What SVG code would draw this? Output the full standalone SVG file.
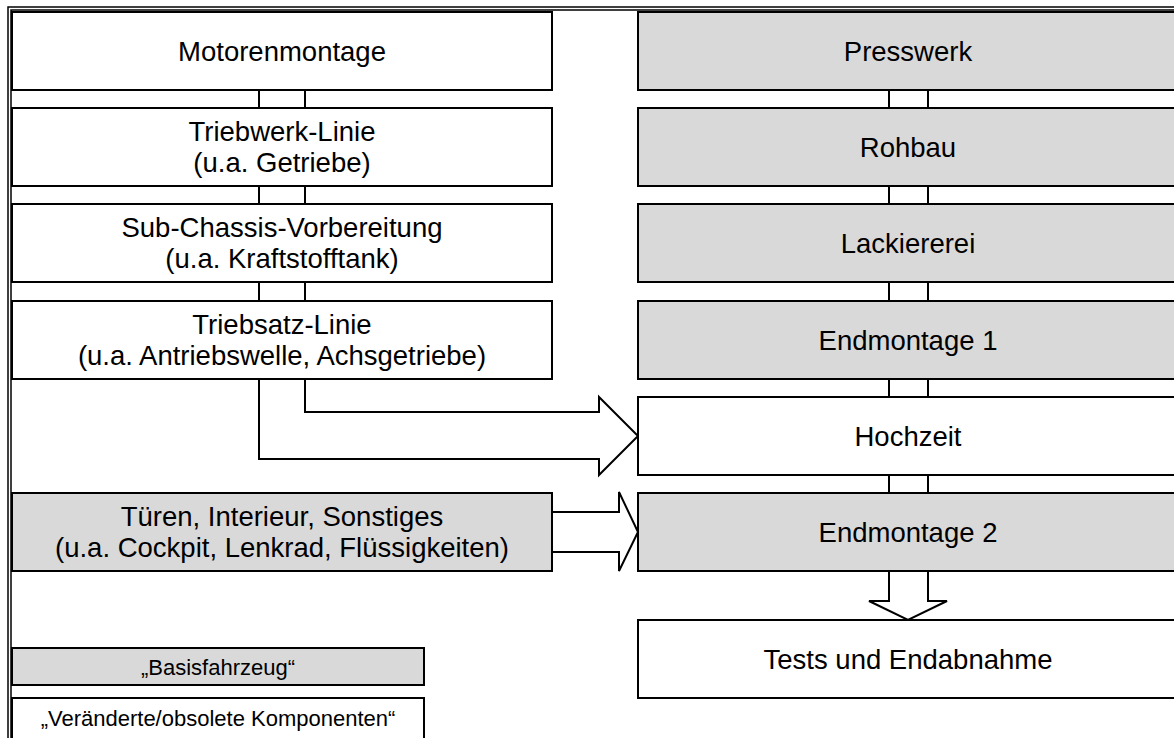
<svg xmlns="http://www.w3.org/2000/svg" width="1174" height="738" viewBox="0 0 1174 738">
<style>
.box{stroke:#000;stroke-width:2}
.w{fill:#fff}
.g{fill:#d9d9d9}
.t{font-family:"Liberation Sans",Arial,sans-serif;font-size:27.5px;fill:#000;text-anchor:middle}
.lt{font-family:"Liberation Sans",Arial,sans-serif;font-size:22px;fill:#000;text-anchor:middle}
.c{fill:none;stroke:#000;stroke-width:2}
.a{fill:#fff;stroke:#000;stroke-width:2;stroke-linejoin:miter}
.f{fill:none;stroke:#000;stroke-width:1.5}
</style>
<rect width="1174" height="738" fill="#fff"/>
<g id="frame">
<path class="f" d="M8,738 V7 H1174 M11,738 V10 H1174"/>
</g>
<g id="connectors">
<path class="c" d="M259,90 V108 M305,90 V108 M259,186 V204 M305,186 V204 M259,282 V301 M305,282 V301"/>
<path class="c" d="M889,90 V108 M928,90 V108 M889,186 V204 M928,186 V204 M889,282 V301 M928,282 V301 M889,379 V397 M928,379 V397 M889,475 V493 M928,475 V493"/>
<path class="a" d="M305,379 V412 H599 V397 L638,436 L599,475 V459 H259 V379"/>
<path class="a" d="M552,512 H619 V492 L638,532 L619,571 V552 H552"/>
<path class="a" d="M889,571 V601 H869 L908,620 L947,601 H928 V571"/>
</g>
<g id="motorenmontage"><rect class="box w" x="12" y="12" width="540" height="78"/><text class="t" x="282" y="60.5">Motorenmontage</text></g>
<g id="triebwerk"><rect class="box w" x="12" y="108" width="540" height="78"/><text class="t" x="282" y="141">Triebwerk-Linie</text><text class="t" x="282" y="172">(u.a. Getriebe)</text></g>
<g id="subchassis"><rect class="box w" x="12" y="204" width="540" height="78"/><text class="t" x="282" y="237">Sub-Chassis-Vorbereitung</text><text class="t" x="282" y="268">(u.a. Kraftstofftank)</text></g>
<g id="triebsatz"><rect class="box w" x="12" y="301" width="540" height="78"/><text class="t" x="282" y="334">Triebsatz-Linie</text><text class="t" x="282" y="365">(u.a. Antriebswelle, Achsgetriebe)</text></g>
<g id="tueren"><rect class="box g" x="12" y="493" width="540" height="78"/><text class="t" x="282" y="526">Türen, Interieur, Sonstiges</text><text class="t" x="282" y="557">(u.a. Cockpit, Lenkrad, Flüssigkeiten)</text></g>
<g id="presswerk"><rect class="box g" x="638" y="12" width="540" height="78"/><text class="t" x="908" y="60.5">Presswerk</text></g>
<g id="rohbau"><rect class="box g" x="638" y="108" width="540" height="78"/><text class="t" x="908" y="156.5">Rohbau</text></g>
<g id="lackiererei"><rect class="box g" x="638" y="204" width="540" height="78"/><text class="t" x="908" y="252.5">Lackiererei</text></g>
<g id="endmontage1"><rect class="box g" x="638" y="301" width="540" height="78"/><text class="t" x="908" y="349.5">Endmontage 1</text></g>
<g id="hochzeit"><rect class="box w" x="638" y="397" width="540" height="78"/><text class="t" x="908" y="445.5">Hochzeit</text></g>
<g id="endmontage2"><rect class="box g" x="638" y="493" width="540" height="78"/><text class="t" x="908" y="541.5">Endmontage 2</text></g>
<g id="tests"><rect class="box w" x="638" y="620" width="540" height="78"/><text class="t" x="908" y="668.5">Tests und Endabnahme</text></g>
<g id="legend-basis"><rect class="box g" x="12" y="648" width="412" height="37"/><text class="lt" x="218" y="675">„Basisfahrzeug“</text></g>
<g id="legend-changed"><rect class="box w" x="12" y="698" width="412" height="45"/><text class="lt" x="218" y="726">„Veränderte/obsolete Komponenten“</text></g>
</svg>
